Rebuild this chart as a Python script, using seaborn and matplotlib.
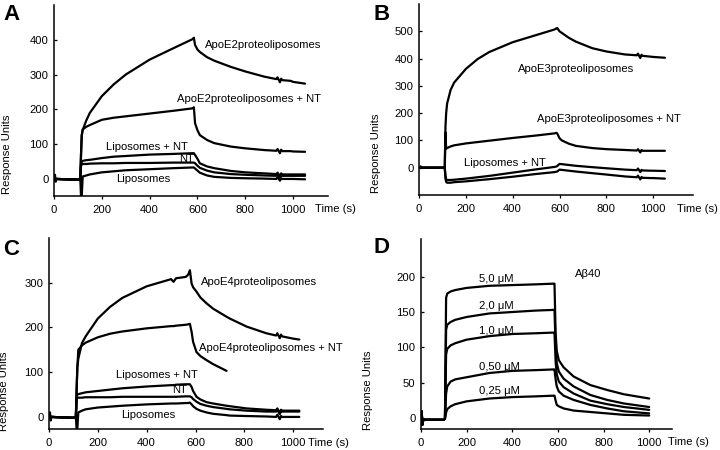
import numpy as np
import matplotlib
matplotlib.use('Agg')
import matplotlib.pyplot as plt
import seaborn as sns

# ---- data (time in s, response units) ----
T_AB = [0, 4, 7, 10, 100, 110, 113, 116, 120, 135, 150, 200, 250, 300, 400, 500, 580, 585,
        590, 600, 610, 640, 670, 740, 800, 880, 930, 935, 945, 950, 955, 990, 1000, 1050]

A_E2 = [0, 12, -8, 0, -2, 0, 70, 125, 141, 168, 190, 238, 272, 300, 343, 376, 402, 406,
        385, 372, 365, 350, 340, 322, 309, 294, 287, 292, 278, 288, 284, 282, 279, 274]
A_E2NT = [0, 0, 0, 0, -2, 0, 70, 125, 142, 150, 155, 170, 176, 180, 188, 196, 203, 206,
          160, 140, 126, 112, 103, 93, 88, 83, 81, 86, 74, 84, 80, 80, 79, 78]
A_LIPNT = [0, 0, 0, 0, -2, 0, 40, 50, 52, 54, 55, 60, 64, 66, 70, 72, 74, 74,
           69, 58, 45, 36, 31, 23, 19, 16, 14, 18, 8, 16, 13, 13, 13, 13]
A_NT = [0, 0, 0, 0, -2, 0, 38, 42, 43, 43, 44, 45, 45, 46, 46, 47, 47, 47,
        45, 38, 32, 24, 19, 14, 12, 10, 9, 13, 3, 11, 9, 9, 9, 9]
A_LIP = [0, 0, 0, 0, -2, 0, -50, -50, 7, 10, 13, 19, 22, 25, 28, 31, 33, 33,
         30, 24, 18, 10, 6, 3, 2, 1, 0, 5, -5, 2, 0, 0, 0, -1]

B_E3 = [0, 0, 5, 0, 0, 0, 150, 200, 235, 285, 312, 362, 398, 424, 460, 486, 507, 510,
        512, 500, 494, 476, 462, 438, 426, 415, 412, 418, 402, 414, 410, 407, 406, 403]
B_E3NT = [0, 0, 0, 0, 0, 0, 130, 70, 72, 78, 82, 89, 94, 99, 109, 118, 126, 128,
          126, 108, 100, 88, 80, 72, 68, 65, 63, 68, 56, 65, 62, 62, 62, 62]
B_LIPNT = [0, 0, 0, 0, 0, 0, -30, -42, -45, -45, -44, -40, -35, -30, -18, -6, 3, 4,
           6, 14, 13, 10, 7, 2, -2, -7, -9, -3, -16, -8, -10, -11, -11, -12]
B_LIP = [0, 0, 0, 0, 0, 0, -40, -52, -55, -55, -53, -50, -46, -42, -33, -23, -16, -15,
         -14, -7, -8, -11, -14, -20, -25, -32, -35, -29, -43, -34, -37, -38, -38, -40]

T_C = [0, 4, 7, 10, 100, 110, 113, 116, 120, 135, 150, 200, 250, 300, 400, 500, 510, 520,
       560, 570, 577, 584, 590, 604, 620, 645, 672, 727, 740, 809, 890, 930, 935, 945,
       950, 955, 1000, 1025]

C_E4 = [0, 10, -8, 0, -2, 0, 60, 110, 130, 165, 180, 220, 246, 266, 292, 308, 302, 310,
        313, 318, 328, 298, 290, 280, 267, 254, 242, 224, 220, 202, 187, 182, 187, 176,
        184, 180, 175, 173]
C_E4NT = [0, 0, 0, 0, -2, 0, 60, 110, 150, 160, 166, 178, 186, 191, 198, 203, 203, 204,
          206, 207, 208, 190, 168, 145, 136, 127, 118, 103, np.nan, np.nan, np.nan, np.nan,
          np.nan, np.nan, np.nan, np.nan, np.nan, np.nan]
C_LIPNT = [0, 0, 0, 0, -2, 0, 45, 50, 51, 53, 55, 58, 61, 64, 68, 71, 71, 72,
           73, 73, 73, 67, 58, 45, 39, 33, 30, 25, 24, 19, 16, 15, 19, 9,
           16, 14, 14, 14]
C_NT = [0, 0, 0, 0, -2, 0, 40, 42, 43, 43, 44, 44, 44, 45, 45, 45, 45, 45,
        46, 46, 46, 44, 40, 34, 29, 25, 22, 18, 17, 14, 12, 12, 16, 6,
        13, 12, 12, 12]
C_LIP = [0, 0, 0, 0, -2, 0, -27, -27, 10, 14, 17, 21, 23, 25, 28, 30, 30, 30,
         31, 31, 32, 28, 24, 18, 14, 10, 7, 4, 3, 2, 1, 0, 5, -5,
         2, 0, 0, 0]

T_D = [0, 3, 6, 10, 100, 105, 110, 115, 130, 150, 200, 300, 400, 500, 580, 585,
       590, 595, 604, 625, 669, 742, 816, 889, 1000]
D_50 = [-2, 10, -9, -2, -2, 0, 170, 176, 179, 181, 184, 187, 188, 189, 190, 190,
        120, 95, 82, 72, 59, 47, 40, 34, 28]
D_20 = [-2, 10, -9, -2, -2, 0, 125, 132, 136, 139, 143, 148, 150, 152, 153, 153,
        100, 78, 66, 56, 45, 33, 26, 21, 16]
D_10 = [-2, 10, -9, -2, -2, 0, 90, 98, 103, 106, 111, 116, 119, 120, 121, 121,
        80, 62, 52, 44, 35, 25, 20, 16, 12]
D_05 = [-2, 10, -9, -2, -2, 0, 35, 45, 52, 55, 58, 64, 67, 68, 69, 69,
        55, 45, 38, 32, 26, 19, 14, 10, 7]
D_025 = [-2, 10, -9, -2, -2, 0, 8, 13, 17, 20, 24, 28, 30, 31, 32, 32,
         25, 19, 17, 14, 11, 9, 7, 5, 4]

D_CONC = ['5,0 μM', '2,0 μM', '1,0 μM', '0,50 μM', '0,25 μM']
D_CONC_Y = [197, 158, 123, 72, 38]

sns.set_style('ticks')
plt.rcParams['font.family'] = ['Liberation Sans', 'DejaVu Sans']
plt.rcParams['text.color'] = 'black'
plt.rcParams['axes.labelcolor'] = 'black'

W, H = 720, 450
fig = plt.figure(figsize=(7.2, 4.5), dpi=100)

fs = 8.1


def make_axes(left, top, right, bottom):
    return fig.add_axes([left / W, 1 - bottom / H, (right - left) / W, (bottom - top) / H])


def style(ax, xlim, ylim, yticks, ylab_xy):
    ax.set_xlim(*xlim)
    ax.set_ylim(*ylim)
    ax.set_xticks([0, 200, 400, 600, 800, 1000])
    ax.set_yticks(yticks)
    sns.despine(ax=ax)
    for s in ['left', 'bottom']:
        ax.spines[s].set_linewidth(1.1)
        ax.spines[s].set_color('black')
    ax.tick_params(axis='x', direction='out', length=2.5, width=0.9, pad=4,
                   labelsize=fs, colors='black')
    ax.tick_params(axis='y', direction='in', length=2.5, width=0.9, pad=4,
                   labelsize=fs, colors='black')
    ax.set_ylabel('Response Units', fontsize=fs)
    ax.yaxis.set_label_coords(*ylab_xy)


def draw(ax, t, curves):
    for y in curves:
        sns.lineplot(x=t, y=y, ax=ax, color='black', lw=1.6, estimator=None, sort=False)


# ---- A ----
axA = make_axes(54, 5, 328, 196)
draw(axA, T_AB, [A_E2, A_E2NT, A_LIPNT, A_NT, A_LIP])
style(axA, (0, 1146), (-49, 500), [0, 100, 200, 300, 400], (-0.152, 0.22))
axA.text(632, 385, 'ApoE2proteoliposomes', fontsize=fs, va='center')
axA.text(513, 230, 'ApoE2proteoliposomes + NT', fontsize=fs, va='center')
axA.text(218, 91, 'Liposomes + NT', fontsize=fs, va='center')
axA.text(525, 57, 'NT', fontsize=fs, va='center')
axA.text(259, -1, 'Liposomes', fontsize=fs, va='center')

# ---- B ----
axB = make_axes(419, 4, 693, 195)
draw(axB, T_AB, [B_E3, B_E3NT, B_LIPNT, B_LIP])
style(axB, (0, 1170), (-100, 600), [0, 100, 200, 300, 400, 500], (-0.137, 0.22))
axB.text(423, 360, 'ApoE3proteoliposomes', fontsize=fs, va='center')
axB.text(502, 177, 'ApoE3proteoliposomes + NT', fontsize=fs, va='center')
axB.text(191, 18, 'Liposomes + NT', fontsize=fs, va='center')

# ---- C ----
axC = make_axes(49, 238, 323, 429)
draw(axC, T_C, [C_E4, C_E4NT, C_LIPNT, C_NT, C_LIP])
style(axC, (0, 1122), (-27, 400), [0, 100, 200, 300], (-0.145, 0.2))
axC.text(622, 301, 'ApoE4proteoliposomes', fontsize=fs, va='center')
axC.text(613, 153, 'ApoE4proteoliposomes + NT', fontsize=fs, va='center')
axC.text(276, 93, 'Liposomes + NT', fontsize=fs, va='center')
axC.text(506, 61, 'NT', fontsize=fs, va='center')
axC.text(294, 4, 'Liposomes', fontsize=fs, va='center')

# ---- D ----
axD = make_axes(421, 239, 672, 429)
draw(axD, T_D, [D_50, D_20, D_10, D_05, D_025])
style(axD, (0, 1100), (-15, 253), [0, 50, 100, 150, 200], (-0.191, 0.205))
axD.text(677, 203, 'Aβ40', fontsize=fs, va='center')
for lab, yv in zip(D_CONC, D_CONC_Y):
    axD.text(253, yv, lab, fontsize=fs, va='center')

# panel letters and time labels
for letter, x, yb in [('A', 3, 20.5), ('B', 373, 20), ('C', 3, 255), ('D', 373, 253)]:
    fig.text(x / W, 1 - yb / H, letter, fontsize=16, fontweight='bold', va='baseline',
             color='black')
for x, y in [(315, 209), (677, 209), (308, 443), (668, 442)]:
    fig.text(x / W, 1 - y / H, 'Time (s)', fontsize=fs, va='center', color='black')

fig.savefig('out.png', dpi=100)
